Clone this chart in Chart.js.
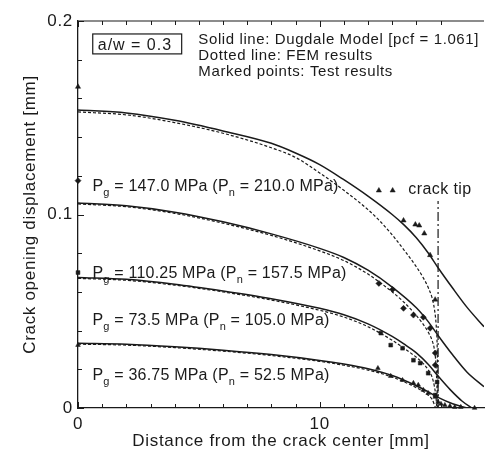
<!DOCTYPE html>
<html>
<head>
<meta charset="utf-8">
<script src="https://cdn.jsdelivr.net/npm/chart.js@4.4.0/dist/chart.umd.min.js"></script>
<style>
  html, body { margin: 0; padding: 0; background: #fff; }
  #chart { display: block; }
</style>
</head>
<body>
<canvas id="chart" width="490" height="455"></canvas>
<script>
const ink = '#1a1a1a';
const family = '"Liberation Sans", Arial, Helvetica, sans-serif';

// axis ticks with labels
const xTickLabels = [0, 10];
const yTickLabels = [0, 0.1, 0.2];

// applied stress levels (gross / net)
const loadsPg = ['147.0', '110.25', '73.5', '36.75'];
const loadsPn = ['210.0', '157.5', '105.0', '52.5'];

// Dugdale model (solid), distance [mm] vs COD [mm]
const solid147X = [0, 2, 4, 6, 8, 9, 10, 11, 12, 13, 13.5, 14, 14.5, 14.9, 15.5, 16.1, 16.8];
const solid147Y = [0.154, 0.1525, 0.1487, 0.1432, 0.1368, 0.1318, 0.1258, 0.118, 0.1095, 0.100, 0.0945, 0.088, 0.080, 0.0725, 0.062, 0.052, 0.042];
const solid110X = [0, 2, 4, 6, 8, 10, 11, 12, 13, 14, 14.5, 14.9, 15.5, 16.1, 16.8];
const solid110Y = [0.106, 0.1045, 0.1012, 0.0962, 0.090, 0.0825, 0.0778, 0.0712, 0.0625, 0.0518, 0.0445, 0.0375, 0.0275, 0.0185, 0.011];
const solid73X = [0, 2, 4, 6, 8, 10, 11, 12, 13, 13.5, 14, 14.5, 14.9, 15.4, 15.9, 16.3];
const solid73Y = [0.0675, 0.0665, 0.064, 0.0605, 0.0565, 0.0515, 0.0482, 0.0435, 0.037, 0.033, 0.0285, 0.0225, 0.0165, 0.0095, 0.0035, 0];
const solid36X = [0, 2, 4, 6, 8, 10, 11, 12, 13, 14, 14.5, 14.9, 15.5, 16.1];
const solid36Y = [0.0335, 0.033, 0.0317, 0.0299, 0.0276, 0.0246, 0.0227, 0.0203, 0.0168, 0.0115, 0.0083, 0.0055, 0.0022, 0];

// FEM results (dotted)
const fem147X = [0, 2, 4, 6, 8, 9, 10, 11, 12, 12.5, 13, 13.5, 14, 14.3, 14.5, 14.65, 14.75, 14.82, 14.86, 14.88, 14.9];
const fem147Y = [0.153, 0.1515, 0.1475, 0.142, 0.1345, 0.1295, 0.1215, 0.1125, 0.1025, 0.0965, 0.0895, 0.0815, 0.073, 0.067, 0.062, 0.057, 0.051, 0.043, 0.033, 0.018, 0];
const fem110X = [0, 2, 4, 6, 8, 10, 11, 12, 13, 13.5, 14, 14.3, 14.5, 14.65, 14.75, 14.81, 14.85, 14.88];
const fem110Y = [0.1055, 0.104, 0.1006, 0.0955, 0.0892, 0.0812, 0.0762, 0.0692, 0.060, 0.0545, 0.0478, 0.043, 0.039, 0.035, 0.030, 0.023, 0.012, 0];
const fem73X = [0, 2, 4, 6, 8, 10, 11, 12, 13, 13.5, 14, 14.3, 14.5, 14.65, 14.75, 14.81, 14.85];
const fem73Y = [0.067, 0.066, 0.0635, 0.060, 0.0558, 0.0505, 0.047, 0.042, 0.035, 0.0308, 0.0262, 0.0228, 0.0196, 0.016, 0.011, 0.006, 0];
const fem36X = [0, 2, 4, 6, 8, 10, 11, 12, 13, 14, 14.4, 14.65, 14.8];
const fem36Y = [0.033, 0.0325, 0.0312, 0.0294, 0.0271, 0.0241, 0.0221, 0.0196, 0.016, 0.0105, 0.0075, 0.0045, 0];

// test results (markers)
const test147X = [0, 12.45, 13.02, 13.47, 13.96, 14.12, 14.33, 14.57, 14.78];
const test147Y = [0.166, 0.1124, 0.1124, 0.0969, 0.0948, 0.0943, 0.0902, 0.079, 0.056];
const test110X = [0, 12.45, 13.02, 13.47, 13.88, 14.29, 14.57, 14.78, 14.78];
const test110Y = [0.1175, 0.0644, 0.0613, 0.0515, 0.048, 0.0469, 0.0412, 0.0284, 0.0222];
const test73X = [0, 12.53, 12.94, 13.43, 13.88, 14.16, 14.49, 14.86, 14.78];
const test73Y = [0.070, 0.0387, 0.0325, 0.0309, 0.0247, 0.0232, 0.018, 0.0134, 0.0067];
const test36X = [0, 12.41, 12.94, 13.43, 13.88, 14.08, 14.29, 14.49, 14.78, 14.9, 15.02, 15.18, 15.39, 15.59, 15.84, 16.41];
const test36Y = [0.0325, 0.0206, 0.0165, 0.0144, 0.0129, 0.0119, 0.0093, 0.0077, 0.0057, 0.0031, 0.0021, 0.0015, 0.001, 0.0005, 0.0005, 0];

// crack tip position
const crackTipX = [14.9, 14.9];
const crackTipY = [0, 0.107];

const pts = (xs, ys) => xs.map((x, i) => ({ x, y: ys[i] }));

function curve(xs, ys, dotted) {
  return {
    data: pts(xs, ys),
    showLine: true,
    borderColor: ink,
    borderWidth: dotted ? 1.2 : 1.5,
    borderDash: dotted ? [3, 2] : [],
    pointRadius: 0,
    cubicInterpolationMode: 'monotone',
  };
}

function markers(xs, ys, style, r) {
  return {
    data: pts(xs, ys),
    showLine: false,
    pointStyle: style,
    pointRadius: r,
    backgroundColor: ink,
    borderColor: ink,
    borderWidth: 0.5,
    clip: 6,
  };
}

function isLabelled(list, v) {
  return list.some(l => Math.abs(l - v) < 1e-9);
}

// load label with subscripted P_g / P_n
function drawLoadLabel(ctx, px, py, pg, pn) {
  const parts = [['P', 0], ['g', 1], [' = ' + pg + ' MPa (P', 0], ['n', 1], [' = ' + pn + ' MPa)', 0]];
  let cx = px;
  parts.forEach(([s, sub]) => {
    ctx.font = (sub ? '11px ' : '16px ') + family;
    ctx.fillText(s, cx, sub ? py + 5 : py);
    cx += ctx.measureText(s).width;
  });
}

const decorations = {
  id: 'decorations',
  beforeDraw(chart) {
    // the printed lettering is set a little wide
    chart.ctx.letterSpacing = '0.7px';
  },
  afterDraw(chart) {
    const { ctx, chartArea: a, scales: { x, y } } = chart;
    ctx.save();
    ctx.strokeStyle = ink;
    ctx.fillStyle = ink;
    ctx.lineWidth = 1.2;

    // top frame line
    ctx.beginPath();
    ctx.moveTo(a.left, a.top);
    ctx.lineTo(a.right, a.top);
    ctx.stroke();

    // inward tick marks
    ctx.lineWidth = 1;
    ctx.beginPath();
    x.ticks.forEach(t => {
      if (Math.abs(t.value - Math.round(t.value)) > 1e-6) return;
      const px = Math.round(x.getPixelForValue(t.value)) + 0.5;
      const len = isLabelled(xTickLabels, t.value) ? 6 : 4;
      ctx.moveTo(px, a.bottom); ctx.lineTo(px, a.bottom - len);
      ctx.moveTo(px, a.top); ctx.lineTo(px, a.top + len);
    });
    y.ticks.forEach(t => {
      const py = Math.round(y.getPixelForValue(t.value)) + 0.5;
      const len = isLabelled(yTickLabels, t.value) ? 6 : 4;
      ctx.moveTo(a.left, py); ctx.lineTo(a.left + len, py);
    });
    ctx.stroke();

    // a/w box
    const bx0 = x.getPixelForValue(0.61), bx1 = x.getPixelForValue(4.29);
    const by0 = y.getPixelForValue(0.1933), by1 = y.getPixelForValue(0.183);
    ctx.lineWidth = 1.2;
    ctx.strokeRect(bx0, by0, bx1 - bx0, by1 - by0);
    ctx.textBaseline = 'alphabetic';
    ctx.letterSpacing = '1px';
    ctx.font = '16px ' + family;
    ctx.fillText('a/w = 0.3', bx0 + 5, by1 - 4);

    // key text
    ctx.letterSpacing = '0.6px';
    ctx.font = '15px ' + family;
    const kx = x.getPixelForValue(4.98);
    ctx.fillText('Solid line: Dugdale Model [pcf = 1.061]', kx, y.getPixelForValue(0.1881));
    ctx.fillText('Dotted line: FEM results', kx, y.getPixelForValue(0.1799));
    ctx.fillText('Marked points: Test results', kx, y.getPixelForValue(0.1716));

    ctx.letterSpacing = '0.4px';
    ctx.font = '16px ' + family;
    ctx.fillText('crack tip', x.getPixelForValue(13.67), y.getPixelForValue(0.1108));

    // load levels
    ctx.letterSpacing = '0.2px';
    const labelY = [0.1124, 0.067, 0.0428, 0.0144];
    loadsPg.forEach((pg, i) => {
      drawLoadLabel(ctx, x.getPixelForValue(0.6), y.getPixelForValue(labelY[i]), pg, loadsPn[i]);
    });
    ctx.restore();
  }
};

Chart.defaults.font.family = family;
Chart.defaults.color = ink;

new Chart(document.getElementById('chart'), {
  type: 'scatter',
  plugins: [decorations],
  data: {
    datasets: [
      curve(solid147X, solid147Y, false),
      curve(solid110X, solid110Y, false),
      curve(solid73X, solid73Y, false),
      curve(solid36X, solid36Y, false),
      curve(fem147X, fem147Y, true),
      curve(fem110X, fem110Y, true),
      curve(fem73X, fem73Y, true),
      curve(fem36X, fem36Y, true),
      {
        data: pts(crackTipX, crackTipY),
        showLine: true,
        borderColor: ink,
        borderWidth: 1.2,
        borderDash: [9, 3, 2, 3],
        pointRadius: 0,
      },
      markers(test147X, test147Y, 'triangle', 3),
      markers(test110X, test110Y, 'rectRot', 3),
      markers(test73X, test73Y, 'rect', 2.7),
      markers(test36X, test36Y, 'triangle', 2.7),
    ]
  },
  options: {
    responsive: false,
    animation: false,
    events: [],
    layout: {
      padding: { top: 21, right: 0, left: 0, bottom: 0 }
    },
    scales: {
      x: {
        type: 'linear',
        min: 0,
        max: 16.8,
        afterFit: (scale) => { scale.height = 47; },
        grid: { display: false, drawTicks: false },
        border: { display: true, color: ink, width: 1.3 },
        ticks: {
          stepSize: 1,
          autoSkip: false,
          maxRotation: 0,
          padding: 6,
          font: { size: 17 },
          callback: (v) => isLabelled(xTickLabels, v) ? String(v) : '',
        },
        title: {
          display: true,
          text: 'Distance from the crack center [mm]',
          font: { size: 17 },
          padding: { top: 0, bottom: 3 },
        },
      },
      y: {
        type: 'linear',
        min: 0,
        max: 0.2,
        afterFit: (scale) => { scale.width = 78; },
        grid: { display: false, drawTicks: false },
        border: { display: true, color: ink, width: 1.3 },
        ticks: {
          stepSize: 0.02,
          autoSkip: false,
          padding: 5,
          font: { size: 17 },
          callback: (v) => isLabelled(yTickLabels, v) ? String(Math.round(v * 10) / 10) : '',
        },
        title: {
          display: true,
          text: 'Crack opening displacement [mm]',
          font: { size: 17 },
          padding: { top: 20, bottom: 0 },
        },
      },
    },
    plugins: {
      legend: { display: false },
      tooltip: { enabled: false },
    },
  },
});
</script>
</body>
</html>
